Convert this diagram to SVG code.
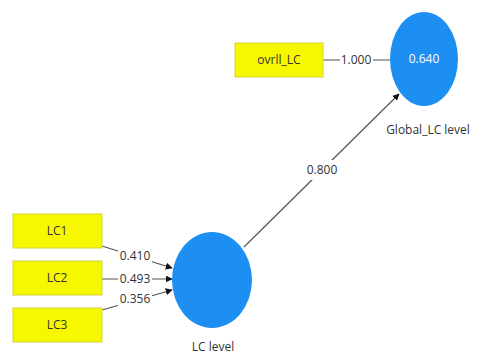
<svg xmlns="http://www.w3.org/2000/svg" width="480" height="359" viewBox="0 0 480 359">
<defs>
<style>
.box{fill:#f7f700;stroke:#d4d43a;stroke-width:1}
.lv{fill:#1e8ff2}
.t{font-family:"Open Sans","Noto Sans",sans-serif;font-size:12px;fill:#333;text-anchor:middle}
.c{stroke:#555;stroke-width:1.2;fill:none}
.w{fill:#fff}
</style>
<marker id="ah" viewBox="0 0 10 10" refX="9" refY="5" markerWidth="7" markerHeight="7" orient="auto" markerUnits="userSpaceOnUse"><path d="M0,0 L10,5 L0,10 z" fill="#111"/></marker>
</defs>
<rect width="480" height="359" fill="#fff"/>
<g id="connectors">
<line class="c" x1="323" y1="60" x2="390" y2="60"/>
<rect class="w" x="340" y="52" width="33" height="16"/>
<text class="t" x="356" y="64">1.000</text>
<line class="c" x1="244" y1="247" x2="399" y2="94" marker-end="url(#ah)"/>
<rect class="w" x="303" y="160" width="37" height="20"/>
<text class="t" x="322" y="174">0.800</text>
<line class="c" x1="102" y1="246" x2="172" y2="268" marker-end="url(#ah)"/>
<rect class="w" x="118" y="249" width="34" height="14"/>
<text class="t" x="135" y="260">0.410</text>
<line class="c" x1="102" y1="279" x2="172" y2="279" marker-end="url(#ah)"/>
<rect class="w" x="118" y="272" width="34" height="14"/>
<text class="t" x="135" y="283">0.493</text>
<line class="c" x1="102" y1="310" x2="172" y2="290" marker-end="url(#ah)"/>
<rect class="w" x="118" y="292" width="34" height="14"/>
<text class="t" x="135" y="303">0.356</text>
</g>
<g id="ovrll_LC"><rect class="box" x="235" y="43" width="88" height="34"/><text class="t" x="279" y="64">ovrll_LC</text></g>
<g id="LC1"><rect class="box" x="13" y="214" width="89" height="34"/><text class="t" x="57" y="235">LC1</text></g>
<g id="LC2"><rect class="box" x="13" y="261" width="89" height="34"/><text class="t" x="57" y="282">LC2</text></g>
<g id="LC3"><rect class="box" x="13" y="308" width="89" height="34"/><text class="t" x="57" y="329">LC3</text></g>
<g id="Global_LC_level"><ellipse class="lv" cx="424" cy="59" rx="34" ry="47"/><text class="t" x="424" y="63" style="fill:#fff">0.640</text><text class="t" x="428" y="134">Global_LC level</text></g>
<g id="LC_level"><ellipse class="lv" cx="212" cy="280" rx="40" ry="48"/><text class="t" x="213" y="351">LC level</text></g>
</svg>
